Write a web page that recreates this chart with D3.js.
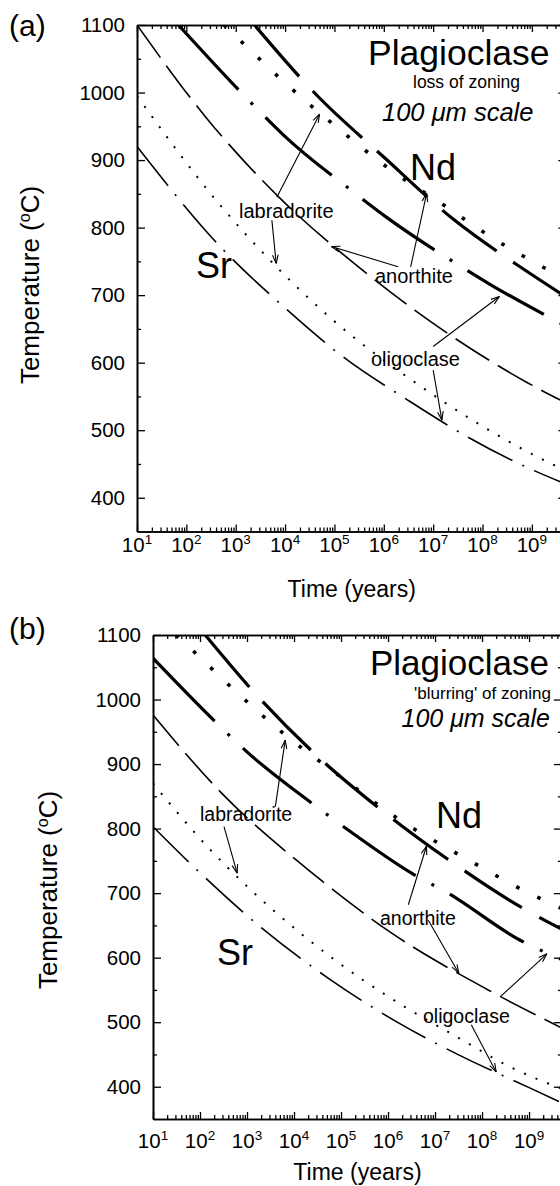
<!DOCTYPE html>
<html><head><meta charset="utf-8">
<script src="https://cdn.jsdelivr.net/npm/d3@7"></script>
<style>
html,body{margin:0;padding:0;background:#fff;}
svg{display:block;}
text{font-family:"Liberation Sans",Arial,Helvetica,sans-serif;fill:#000;}
</style></head><body>
<svg id="chart" width="560" height="1186"></svg>
<script>
// ---------- shared axis data ----------
const timeDomain = [10, 5e9];
const tempDomain = [350, 1100];
const tempTicks = [400, 500, 600, 700, 800, 900, 1000, 1100];
const tempMinorTicks = [450, 550, 650, 750, 850, 950, 1050];
const timeTickExponents = [1, 2, 3, 4, 5, 6, 7, 8, 9];

// ---------- panel (a): loss of zoning ----------
const aSrAnorthiteTime = [10, 257, 7.76e3, 3.7e5, 1.74e7, 8.3e8, 5e9];
const aSrAnorthiteTemp = [1100, 962, 844, 737, 646, 570, 540];
const aSrLabradoriteTime = [10, 427, 5.9e3, 1.7e5, 3.1e6, 8.9e7, 2.7e9, 5e9];
const aSrLabradoriteTemp = [995, 838, 746, 647, 578, 508, 449, 440];
const aSrOligoclaseTime = [10, 513, 9.3e3, 1.6e5, 3.0e6, 5.0e7, 9.1e8, 5e9];
const aSrOligoclaseTemp = [920, 770, 683, 607, 545, 490, 443, 420];
const aNdAnorthiteTime = [2.4e3, 4.4e4, 1.05e6, 2.5e7, 6.6e8, 5e9];
const aNdAnorthiteTemp = [1100, 996, 903, 813, 739, 697];
const aNdLabradoriteTime = [575, 977, 1.12e4, 1.23e5, 1.41e6, 1.66e7, 1.82e8, 2.04e9, 5e9];
const aNdLabradoriteTemp = [1100, 1084, 1011, 946, 885, 833, 782, 738, 722];
const aNdOligoclaseTime = [69, 2.1e3, 9.3e3, 2.6e5, 1.2e6, 3.2e7, 1.5e8, 3.7e9, 5e9];
const aNdOligoclaseTemp = [1100, 984, 937, 851, 814, 745, 715, 659, 654];
// arrows: [time from, temp from, time to (tip), temp to]
const aArrows = [
  [6.8e3, 845, 5.0e4, 968],
  [5.4e3, 811, 6.6e3, 747],
  [3.5e6, 742, 7.4e6, 851],
  [1.95e6, 742, 8.7e4, 772],
  [1.0e7, 624, 2.2e8, 698],
  [1.0e7, 589, 1.5e7, 515]
];

// ---------- panel (b): 'blurring' of zoning ----------
const bSrAnorthiteTime = [10, 288, 1.86e4, 1.2e6, 1.35e8, 5e9];
const bSrAnorthiteTemp = [976, 855, 738, 638, 550, 491];
const bSrLabradoriteTime = [10, 162, 832, 4.27e3, 6.6e4, 1.82e6, 2.8e7, 4.4e8, 3.9e9, 5e9];
const bSrLabradoriteTemp = [870, 768, 716, 669, 599, 528, 478, 429, 400, 397];
const bSrOligoclaseTime = [10, 78, 2.04e3, 5.4e4, 1.41e6, 3.7e7, 9.8e8, 5e9];
const bSrOligoclaseTemp = [803, 739, 646, 568, 502, 447, 399, 375];
const bNdAnorthiteTime = [129, 1.74e3, 3.9e4, 5.2e5, 2.4e7, 6.5e8, 5e9];
const bNdAnorthiteTemp = [1100, 1004, 906, 837, 747, 679, 644];
const bNdLabradoriteTime = [31, 50, 589, 6.5e3, 7.4e4, 1.82e6, 4.7e7, 1.2e9, 2.7e9, 5e9];
const bNdLabradoriteTemp = [1100, 1086, 1012, 945, 887, 813, 753, 697, 685, 676];
const bNdOligoclaseTime = [10, 245, 1.07e3, 3.0e4, 2.0e5, 3.5e6, 1.8e7, 6.5e8, 5e9];
const bNdOligoclaseTemp = [1064, 961, 917, 834, 790, 729, 701, 627, 597];
const bArrows = [
  [4.0e3, 834, 6.5e3, 937],
  [324, 803, 617, 731],
  [2.7e6, 682, 6.6e6, 773],
  [7.2e6, 658, 3.2e7, 576],
  [2.5e8, 540, 2.4e9, 606],
  [5.9e7, 496, 2.0e8, 423]
];

// ---------- layout & styles ----------
const styles = {
  SrAnorthite:   {w: 1.6, dash: "40,10"},
  SrLabradorite: {w: 2.0, dash: "2,10.5"},
  SrOligoclase:  {w: 1.6, dash: "50,11,2,11"},
  NdAnorthite:   {w: 3.2, dash: "68,20"},
  NdLabradorite: {w: 3.6, dash: "3.6,20"},
  NdOligoclase:  {w: 3.2, dash: "88,18,3,18"}
};

const panels = [
  {
    key: "a", left: 137, right: 566.4, top: 25, bottom: 531.5,
    series: [
      ["SrAnorthite", aSrAnorthiteTime, aSrAnorthiteTemp],
      ["SrLabradorite", aSrLabradoriteTime, aSrLabradoriteTemp],
      ["SrOligoclase", aSrOligoclaseTime, aSrOligoclaseTemp],
      ["NdAnorthite", aNdAnorthiteTime, aNdAnorthiteTemp],
      ["NdLabradorite", aNdLabradoriteTime, aNdLabradoriteTemp],
      ["NdOligoclase", aNdOligoclaseTime, aNdOligoclaseTemp]
    ],
    arrows: aArrows,
    letter: {t: "(a)", x: 9, y: 36},
    ylab: {x: 30, y: 285},
    xlabY: 597, tickLabY: 552,
    texts: [
      {t: "Plagioclase", x: 368, y: 65, size: 35.5, anchor: "start"},
      {t: "loss of zoning", x: 413, y: 88, size: 17.5, anchor: "start"},
      {t: "100 μm scale", x: 382, y: 121, size: 25.5, anchor: "start", italic: true},
      {t: "Nd", x: 410, y: 180, size: 36, anchor: "start"},
      {t: "Sr", x: 196, y: 278, size: 36, anchor: "start"},
      {t: "labradorite", x: 239, y: 218, size: 20, anchor: "start"},
      {t: "anorthite", x: 375, y: 283, size: 20, anchor: "start"},
      {t: "oligoclase", x: 371, y: 366, size: 20, anchor: "start"}
    ]
  },
  {
    key: "b", left: 153, right: 561.9, top: 635, bottom: 1119,
    series: [
      ["SrAnorthite", bSrAnorthiteTime, bSrAnorthiteTemp],
      ["SrLabradorite", bSrLabradoriteTime, bSrLabradoriteTemp],
      ["SrOligoclase", bSrOligoclaseTime, bSrOligoclaseTemp],
      ["NdAnorthite", bNdAnorthiteTime, bNdAnorthiteTemp],
      ["NdLabradorite", bNdLabradoriteTime, bNdLabradoriteTemp],
      ["NdOligoclase", bNdOligoclaseTime, bNdOligoclaseTemp]
    ],
    arrows: bArrows,
    letter: {t: "(b)", x: 9, y: 639},
    ylab: {x: 48, y: 890},
    xlabY: 1180, tickLabY: 1148,
    texts: [
      {t: "Plagioclase", x: 549, y: 675, size: 35, anchor: "end"},
      {t: "'blurring' of zoning", x: 551, y: 699, size: 17, anchor: "end"},
      {t: "100 μm scale", x: 550, y: 727, size: 25, anchor: "end", italic: true},
      {t: "Nd", x: 436, y: 828, size: 36, anchor: "start"},
      {t: "Sr", x: 217, y: 965, size: 36, anchor: "start"},
      {t: "labradorite", x: 200, y: 821, size: 19.5, anchor: "start"},
      {t: "anorthite", x: 380, y: 925, size: 19.5, anchor: "start"},
      {t: "oligoclase", x: 423, y: 1023, size: 19.5, anchor: "start"}
    ]
  }
];

const svg = d3.select("#chart");
const defs = svg.append("defs");

panels.forEach(p => {
  const x = d3.scaleLog().domain(timeDomain).range([p.left, p.right]);
  const y = d3.scaleLinear().domain(tempDomain).range([p.bottom, p.top]);
  const g = svg.append("g");

  // clip
  defs.append("clipPath").attr("id", "clip-" + p.key)
    .append("rect").attr("x", p.left).attr("y", p.top)
    .attr("width", p.right - p.left).attr("height", p.bottom - p.top);

  // curves
  const line = d3.line().x(d => x(d[0])).y(d => y(d[1])).curve(d3.curveMonotoneX);
  const cg = g.append("g").attr("clip-path", `url(#clip-${p.key})`);
  p.series.forEach(([name, ts, temps]) => {
    const st = styles[name];
    cg.append("path")
      .datum(ts.map((t, i) => [t, temps[i]]))
      .attr("d", line)
      .attr("fill", "none")
      .attr("stroke", "#000")
      .attr("stroke-width", st.w)
      .attr("stroke-dasharray", st.dash)
      .attr("stroke-linecap", "butt");
  });

  // axes
  const majorX = timeTickExponents.map(e => Math.pow(10, e));
  const minorX = [];
  for (let e = 1; e <= 9; e++) for (let m = 2; m <= 9; m++) {
    const v = m * Math.pow(10, e);
    if (v <= timeDomain[1]) minorX.push(v);
  }
  const axStyle = sel => {
    sel.select(".domain").attr("stroke", "#000").attr("stroke-width", 1.6);
    sel.selectAll(".tick line").attr("stroke", "#000").attr("stroke-width", 1.3);
  };
  // bottom
  g.append("g").attr("transform", `translate(0,${p.bottom})`)
    .call(d3.axisBottom(x).tickValues(minorX).tickSize(-4).tickSizeOuter(0).tickFormat(""))
    .call(axStyle);
  g.append("g").attr("transform", `translate(0,${p.bottom})`)
    .call(d3.axisBottom(x).tickValues(majorX).tickSize(-7).tickSizeOuter(0).tickFormat(""))
    .call(axStyle);
  // top
  g.append("g").attr("transform", `translate(0,${p.top})`)
    .call(d3.axisTop(x).tickValues(minorX).tickSize(-4).tickSizeOuter(0).tickFormat(""))
    .call(axStyle);
  g.append("g").attr("transform", `translate(0,${p.top})`)
    .call(d3.axisTop(x).tickValues(majorX).tickSize(-7).tickSizeOuter(0).tickFormat(""))
    .call(axStyle);
  // left
  g.append("g").attr("transform", `translate(${p.left},0)`)
    .call(d3.axisLeft(y).tickValues(tempMinorTicks).tickSize(-4).tickSizeOuter(0).tickFormat(""))
    .call(axStyle);
  const la = g.append("g").attr("transform", `translate(${p.left},0)`)
    .call(d3.axisLeft(y).tickValues(tempTicks).tickSize(-8).tickSizeOuter(0).tickPadding(12).tickFormat(d3.format("d")))
    .call(axStyle);
  la.selectAll(".tick text").attr("font-size", 20.5).attr("font-family", "Liberation Sans, Arial, sans-serif").attr("fill", "#000");
  // right
  g.append("g").attr("transform", `translate(${p.right},0)`)
    .call(d3.axisRight(y).tickValues(tempMinorTicks).tickSize(-4).tickSizeOuter(0).tickFormat(""))
    .call(axStyle);
  g.append("g").attr("transform", `translate(${p.right},0)`)
    .call(d3.axisRight(y).tickValues(tempTicks).tickSize(-8).tickSizeOuter(0).tickFormat(""))
    .call(axStyle);

  // x tick labels with superscripts
  timeTickExponents.forEach(e => {
    const t = g.append("text").attr("x", x(Math.pow(10, e))).attr("y", p.tickLabY)
      .attr("text-anchor", "middle").attr("font-size", 20.5);
    t.append("tspan").text("10");
    t.append("tspan").attr("font-size", 13.5).attr("dy", -8).text(String(e));
  });

  // axis titles
  g.append("text").attr("x", (p.left + p.right) / 2).attr("y", p.xlabY)
    .attr("text-anchor", "middle").attr("font-size", 23).text("Time (years)");
  const yl = g.append("text")
    .attr("transform", `translate(${p.ylab.x + 9},${p.ylab.y}) rotate(-90)`)
    .attr("text-anchor", "middle").attr("font-size", 26);
  yl.append("tspan").text("Temperature (");
  yl.append("tspan").attr("font-size", 16).attr("dy", -9).text("o");
  yl.append("tspan").attr("dy", 9).text("C)");

  // panel letter
  g.append("text").attr("x", p.letter.x).attr("y", p.letter.y).attr("font-size", 30).text(p.letter.t);

  // annotation texts
  p.texts.forEach(d => {
    const t = g.append("text").attr("x", d.x).attr("y", d.y).attr("font-size", d.size)
      .attr("text-anchor", d.anchor);
    if (d.italic) t.attr("font-style", "italic");
    t.text(d.t);
  });

  // arrows
  p.arrows.forEach(a => {
    const x1 = x(a[0]), y1 = y(a[1]), x2 = x(a[2]), y2 = y(a[3]);
    g.append("line").attr("x1", x1).attr("y1", y1).attr("x2", x2).attr("y2", y2)
      .attr("stroke", "#000").attr("stroke-width", 1.1);
    const ang = Math.atan2(y2 - y1, x2 - x1);
    const L = 9, spread = 0.32;
    [ang + Math.PI - spread, ang + Math.PI + spread].forEach(b => {
      g.append("line").attr("x1", x2).attr("y1", y2)
        .attr("x2", x2 + L * Math.cos(b)).attr("y2", y2 + L * Math.sin(b))
        .attr("stroke", "#000").attr("stroke-width", 1.1);
    });
  });
});
</script>
</body></html>
